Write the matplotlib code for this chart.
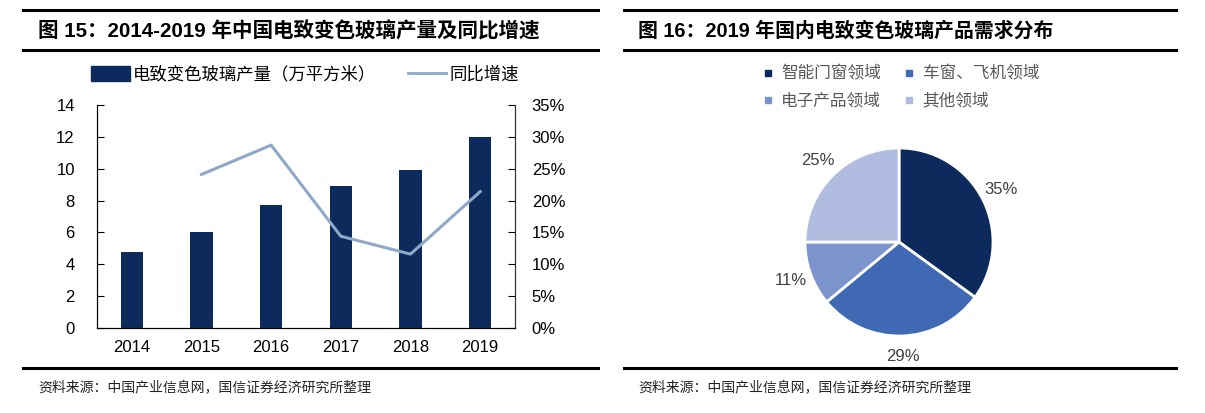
import matplotlib.pyplot as plt
from matplotlib.lines import Line2D
from matplotlib.patches import Patch

plt.rcParams['font.family'] = ['Liberation Sans', 'Noto Sans CJK SC', 'DejaVu Sans']

years = ['2014', '2015', '2016', '2017', '2018', '2019']
output = [4.8, 6.0, 7.7, 8.9, 9.9, 12.0]          # 万平方米
growth = [None, 24.1, 28.7, 14.4, 11.6, 21.4]      # %

pie_labels = ['智能门窗领域', '车窗、飞机领域', '电子产品领域', '其他领域']
pie_values = [35, 29, 11, 25]

navy = '#0c2a5b'
line_c = '#8ea8c8'
pie_colors = ['#0c2a5b', '#4069b3', '#7c94cc', '#b1bde0']
gray = '#404040'

W, H = 1205, 413
fig = plt.figure(figsize=(W / 100, H / 100), dpi=100)


def fx(px):
    return px / W


def fy(py):
    return 1 - py / H


def hline(x0, x1, y, lw):
    fig.add_artist(Line2D([fx(x0), fx(x1)], [fy(y), fy(y)], color='black', lw=lw,
                          transform=fig.transFigure))


# header / footer rules
for x0, x1 in [(23, 598), (624, 1176)]:
    hline(x0, x1, 10, 2.2)
    hline(x0, x1, 50, 2.2)
    hline(x0, x1, 368, 2.2)

fig.text(fx(38), fy(31), '图 15：2014-2019 年中国电致变色玻璃产量及同比增速',
         fontsize=14.8, fontweight='bold', va='center', ha='left')
fig.text(fx(638), fy(31), '图 16：2019 年国内电致变色玻璃产品需求分布',
         fontsize=14.3, fontweight='bold', va='center', ha='left')
src = '资料来源：中国产业信息网，国信证券经济研究所整理'
fig.text(fx(38), fy(387), src, fontsize=10, va='center', ha='left', color='#222222')
fig.text(fx(638), fy(387), src, fontsize=10, va='center', ha='left', color='#222222')

# ---- left: bars + line ----
ax = fig.add_axes([fx(97), fy(328), fx(515 - 97), (328 - 105) / H])
x = list(range(len(years)))
ax.bar(x, output, width=0.32, color=navy, zorder=2)
ax.set_xlim(-0.5, 5.5)
ax.set_ylim(0, 14)
ax.set_yticks(range(0, 15, 2))
ax.set_xticks(x)
ax.set_xticklabels(years)
ax.tick_params(axis='y', direction='in', length=5, labelsize=12, pad=16, colors='black')
ax.tick_params(axis='x', length=0, labelsize=12, pad=9)
ax.spines['top'].set_visible(False)
for s in ['left', 'right', 'bottom']:
    ax.spines[s].set_color('#333333')

ax2 = ax.twinx()
gx = [i for i, g in zip(x, growth) if g is not None]
gy = [g for g in growth if g is not None]
ax2.plot(gx, gy, color=line_c, lw=2.2, zorder=3)
ax2.set_ylim(0, 35)
ax2.set_yticks(range(0, 36, 5))
ax2.set_yticklabels([f'{v}%' for v in range(0, 36, 5)])
ax2.tick_params(axis='y', direction='in', length=5, labelsize=12, pad=12)
ax2.spines['top'].set_visible(False)
ax2.spines['right'].set_color('#333333')

handles = [Patch(color=navy), Line2D([], [], color=line_c, lw=2)]
fig.legend(handles, ['电致变色玻璃产量（万平方米）', '同比增速'], ncol=2, frameon=False,
           loc='center', bbox_to_anchor=(fx(305), fy(74)), fontsize=12.5,
           handlelength=2.2, handleheight=0.9, handletextpad=0.2, columnspacing=1.8)

# ---- right: pie ----
axp = fig.add_axes([fx(899 - 141), fy(242 + 141), fx(282), 282 / H])
axp.pie(pie_values, colors=pie_colors, startangle=90, counterclock=False,
        autopct='%d%%', pctdistance=1.22, radius=94 / 141 * 1.5,
        wedgeprops=dict(edgecolor='white', linewidth=2),
        textprops=dict(color=gray, fontsize=12))
axp.set_xlim(-1.5, 1.5)
axp.set_ylim(-1.5, 1.5)
axp.set_aspect('equal')
axp.axis('off')

# legend fills column-wise, so order handles to read row-wise
order = [0, 2, 1, 3]
ph = [Line2D([], [], marker='s', color=pie_colors[i], ls='', markersize=5) for i in order]
fig.legend(ph, [pie_labels[i] for i in order], ncol=2, frameon=False, loc='center',
           bbox_to_anchor=(fx(900), fy(87)), fontsize=12, labelcolor='#595959',
           handlelength=0.8, handletextpad=0.4, columnspacing=1.3, labelspacing=0.65)

fig.savefig('out.png', dpi=100)
